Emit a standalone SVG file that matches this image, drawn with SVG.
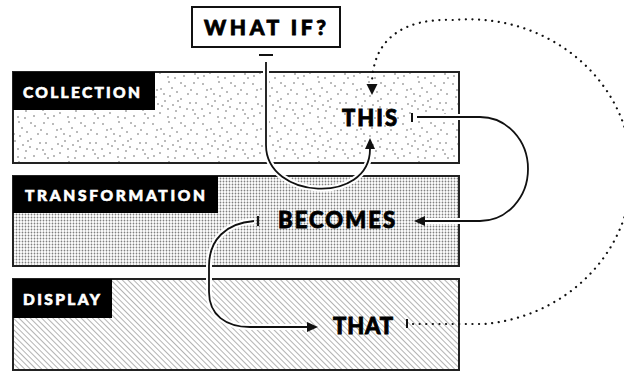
<svg xmlns="http://www.w3.org/2000/svg" width="624" height="372" viewBox="0 0 624 372">
<style>
.panel{stroke:#222;stroke-width:2}
.tag{fill:#000}
.tagtxt{fill:#fff;stroke:#fff;stroke-width:0.6;font-family:"Lato","Liberation Sans",sans-serif;font-weight:900;font-size:15.5px}
.term{fill:#000;stroke:#000;stroke-width:0.8;font-family:"Lato","Liberation Sans",sans-serif;font-weight:900;font-size:22px}
.halo{fill:none;stroke:#fff;stroke-width:6}
.conn{fill:none;stroke:#111;stroke-width:1.8}
.dot{fill:none;stroke:#111;stroke-width:2.2;stroke-linecap:round;stroke-dasharray:0.1 6.5}
.tick{stroke:#111;stroke-width:2}
</style>
<defs>
<pattern id="stipple" width="50" height="40" patternUnits="userSpaceOnUse">
<g fill="#555">
<circle cx="3" cy="4" r="0.75"/><circle cx="11" cy="9" r="0.75"/><circle cx="19" cy="2" r="0.75"/><circle cx="27" cy="12" r="0.75"/><circle cx="35" cy="6" r="0.75"/><circle cx="44" cy="3" r="0.75"/><circle cx="47" cy="14" r="0.75"/><circle cx="6" cy="17" r="0.75"/><circle cx="15" cy="21" r="0.75"/><circle cx="23" cy="25" r="0.75"/><circle cx="31" cy="19" r="0.75"/><circle cx="40" cy="23" r="0.75"/><circle cx="2" cy="29" r="0.75"/><circle cx="10" cy="33" r="0.75"/><circle cx="18" cy="37" r="0.75"/><circle cx="26" cy="31" r="0.75"/><circle cx="34" cy="36" r="0.75"/><circle cx="43" cy="30" r="0.75"/><circle cx="48" cy="38" r="0.75"/><circle cx="38" cy="14" r="0.75"/><circle cx="14" cy="14" r="0.75"/><circle cx="22" cy="8" r="0.75"/><circle cx="8" cy="24" r="0.75"/><circle cx="30" cy="27" r="0.75"/>
<circle cx="7" cy="10" r="0.75"/><circle cx="31" cy="3" r="0.75"/><circle cx="41" cy="10" r="0.75"/><circle cx="18" cy="29" r="0.75"/><circle cx="46" cy="23" r="0.75"/><circle cx="37" cy="29" r="0.75"/><circle cx="4" cy="36" r="0.75"/><circle cx="25" cy="38" r="0.75"/><circle cx="12" cy="26" r="0.75"/><circle cx="28" cy="21" r="0.75"/><circle cx="20" cy="16" r="0.75"/><circle cx="45" cy="34" r="0.75"/>
</g>
</pattern>
<pattern id="halftone" width="3" height="3" patternUnits="userSpaceOnUse">
<circle cx="1.5" cy="1.5" r="0.9" fill="#808080"/>
</pattern>
<pattern id="hatch" width="4" height="4" patternUnits="userSpaceOnUse" patternTransform="rotate(-45)">
<line x1="0" y1="0" x2="0" y2="4" stroke="#808080" stroke-width="1.2"/>
</pattern>
<marker id="arrow" viewBox="0 0 11 10" refX="0" refY="5" markerWidth="11" markerHeight="10" markerUnits="userSpaceOnUse" orient="auto">
<path d="M0,0 L11,5 L0,10 Z" fill="#111"/>
</marker>
</defs>

<g id="collection">
<rect class="panel" x="13" y="72" width="446" height="91" fill="#fff"/>
<rect x="14" y="73" width="444" height="89" fill="url(#stipple)"/>
<rect class="tag" x="13" y="72" width="142" height="38"/>
<text class="tagtxt" x="23" y="98" textLength="117" lengthAdjust="spacing">COLLECTION</text>
</g>
<g id="transformation">
<rect class="panel" x="13" y="176" width="446" height="90" fill="#fff"/>
<rect x="14" y="177" width="444" height="88" fill="url(#halftone)"/>
<rect class="tag" x="13" y="176" width="205" height="37"/>
<text class="tagtxt" x="25" y="201" textLength="180" lengthAdjust="spacing">TRANSFORMATION</text>
</g>
<g id="display">
<rect class="panel" x="13" y="279" width="446" height="91" fill="#fff"/>
<rect x="14" y="280" width="444" height="89" fill="url(#hatch)"/>
<rect class="tag" x="13" y="279" width="99" height="39"/>
<text class="tagtxt" x="23" y="305" textLength="77" lengthAdjust="spacing">DISPLAY</text>
</g>

<g id="connectors">
<path class="halo" d="M266,62 V145 C266,200 370,205 370,149"/>
<path class="conn" d="M266,62 V145 C266,200 370,205 370,149" marker-end="url(#arrow)"/>
<line class="tick" x1="259" y1="55" x2="273" y2="55"/>
<path class="halo" d="M417,117 H480 A48,52 0 0 1 480,221 H425"/>
<path class="conn" d="M417,117 H480 A48,52 0 0 1 480,221 H425" marker-end="url(#arrow)"/>
<line class="tick" x1="412" y1="113" x2="412" y2="122"/>
<path class="halo" d="M254,221 C226,223 209,240 209,266 V292 C209,315 226,327 250,327 H307"/>
<path class="conn" d="M254,221 C226,223 209,240 209,266 V292 C209,315 226,327 250,327 H307" marker-end="url(#arrow)"/>
<line class="tick" x1="258" y1="216" x2="258" y2="226"/>
<path class="dot" d="M413,324 H485 A162,152 0 0 0 453,20 C405,18 373,38 372,83"/>
<path d="M366.5,84 L377.5,84 L372,95 Z" fill="#111"/>
<line class="tick" x1="407" y1="319" x2="407" y2="328"/>
</g>

<g id="this"><text class="term" x="342" y="126" textLength="55" lengthAdjust="spacing">THIS</text></g>
<g id="becomes"><text class="term" x="278" y="228" textLength="117" lengthAdjust="spacing">BECOMES</text></g>
<g id="that"><text class="term" x="333" y="334" textLength="60" lengthAdjust="spacing">THAT</text></g>
<g id="whatif">
<rect x="192" y="7" width="148" height="40" fill="#fff" stroke="#111" stroke-width="2"/>
<text class="term" x="204" y="35" style="font-size:21px" textLength="122" lengthAdjust="spacing">WHAT IF?</text>
</g>
</svg>
